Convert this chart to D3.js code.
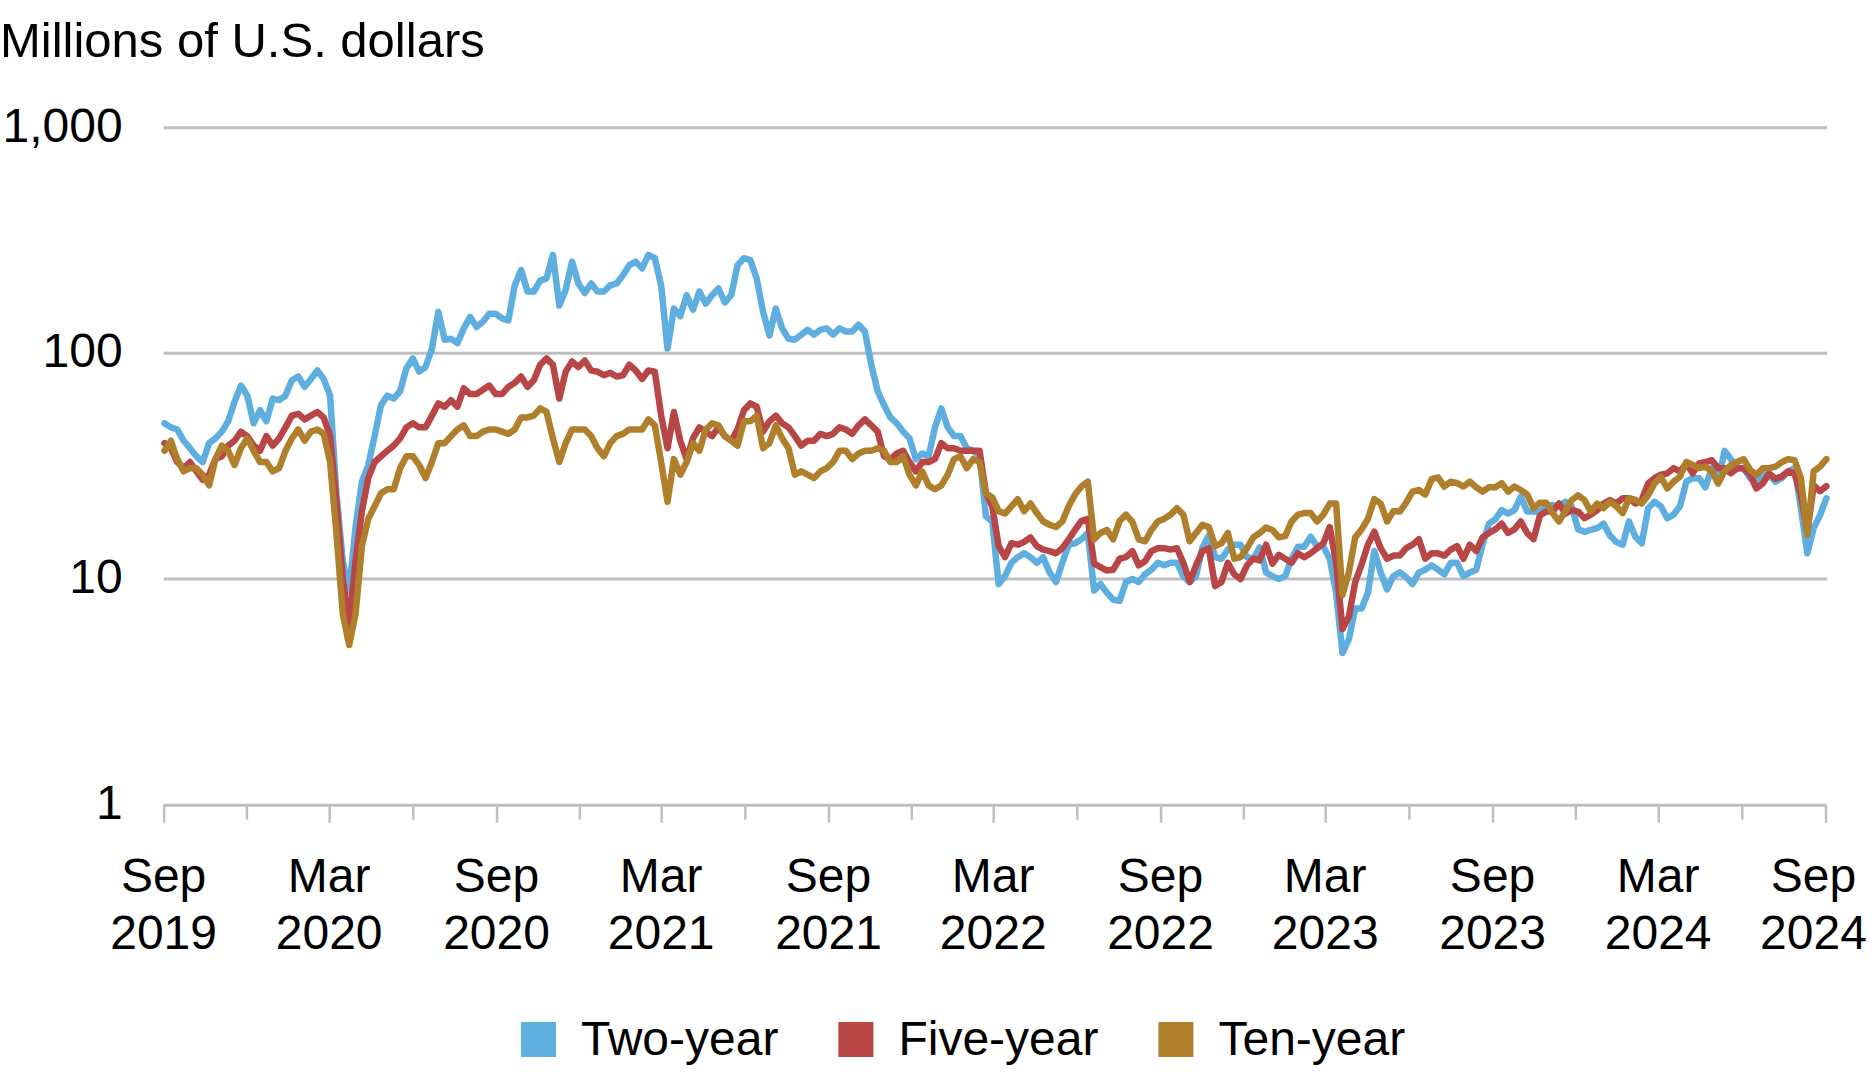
<!DOCTYPE html>
<html><head><meta charset="utf-8">
<script src="https://cdn.jsdelivr.net/npm/d3@7"></script>
<style>
html,body{margin:0;padding:0;background:#fff;}
svg{display:block;font-family:"Liberation Sans",Arial,Helvetica,sans-serif;}
</style>
</head><body>
<svg id="chart" width="1872" height="1074"></svg>
<script>
// ---- data (weekly observations, millions of U.S. dollars) ----
const startDate = "2019-09-02";
const stepDays = 7;

const twoYear = [
49,47,46,41,38,35,33,40,42,45,50,61,72,65,49,56,50,63,62,65,
76,79,71,77,84,77,65,24,12,8.8,17,27,32,43,59,65,63,68,86,95,
83,87,105,153,115,116,111,129,145,131,138,150,150,143,140,200,234,188,188,210,
215,273,163,191,255,204,185,204,188,188,200,204,222,246,255,238,273,264,200,105,
158,146,181,156,188,166,181,194,168,181,246,264,259,215,153,120,158,129,116,115,
121,127,121,127,129,121,129,125,125,134,125,89,68,59,52,49,45,42,34,36,
35,47,57,47,43,43,38,37,35,19,18,9.5,10.3,11.8,12.5,13,12.5,11.8,12.5,10.7,
9.7,11.8,14.2,14.4,15,16,8.9,9.5,8.7,8.1,8,9.7,10,9.7,10.5,11,11.8,11.5,11.8,11.8,
10.3,9.7,10.3,13.8,15.6,12.5,12.3,13.5,14.2,14.2,12.5,12.3,13.8,10.7,10.3,10,10.3,12.3,13.9,13.9,
15.4,14,13.9,12.3,8.7,4.7,5.4,7.4,7.4,8.7,13.3,10.7,9,10.3,10.7,10.2,9.5,10.7,11,11.5,
11,10.5,11.8,11.8,10.3,10.7,11,14.2,17.6,18.4,20.2,19.5,20.2,23.2,19.9,19.9,19.9,21,21.3,21,
22,21,16.6,16.2,16.5,16.8,17.6,15.6,14.6,14.2,18,15.4,14.4,20.6,22,21,18.6,19.3,21,27,
28,28,25.5,31,27,37,34,31,31,28,27,29,29,27,28,30,31,20.6,13,16.8,
19.2,22.8
];

const fiveYear = [
40,38,33,31,33,30,27.5,29,34,35,39,41,45,43,39,37,43,39,42,47,
53,54,51,53,55,52,43,22,10,6.2,12,20,28,33,35,37,39,42,47,49,
47,47,53,60,58,62,58,70,66,66,69,72,66,66,71,74,79,71,76,89,
95,89,63,83,92,87,93,84,83,80,82,79,80,89,84,77,84,83,53,38,
55,41,34,42,47,45,43,47,43,41,46,56,60,58,45,50,53,49,47,43,
39,41,41,44,43,44,47,46,44,48,51,48,45,35,34,36,37,33,30,33,
33,34,40,38,38,37,37,37,37,24,21,14,12.5,14.4,14.2,14.6,15.3,14,13.5,13.3,
13,13.7,15,16.5,18.1,18.5,11.7,11.3,10.9,11,12.3,12.5,13.3,11.5,12,13.3,13.7,13.7,13.5,13.7,
11.8,9.7,11.5,13.3,13.7,9.3,9.7,11.8,10.5,10,11.5,12.3,12.1,14.2,11.7,12.8,12.3,11.8,13,12.5,
13,13.7,14.4,17,11.8,6,6.8,9.7,11.6,14.2,16.2,13.7,12.3,12.7,12.7,13.7,14.2,15,12.3,13,
13,12.7,13.5,14,12.3,14.2,13.3,15.3,16,16.6,17.6,16,16.6,18,16,15,19.1,19.9,19.9,21.6,
19.5,20.2,19.9,18.6,19.3,20.2,21.6,22.4,21.6,22.8,22.8,21.6,22.4,26.5,28,29,29.4,31,30,32.5,
29.4,32.5,33,33.6,31,31,29.4,31,31,29,25.2,26.5,29.4,27.8,28.5,30,29.4,23.5,16.2,26,
24.5,25.8
];

const tenYear = [
37,41,34,30,31,31,29,26,34,39,37,32,38,42,37,33,33,30,31,37,
42,46,41,45,46,44,33,16,7,5.1,7,14,18.5,21,24,25,25,31,35,35,
32,28,33,40,40,43,46,48,43,43,45,46,46,45,44,46,52,52,53,57,
55,42,33,40,46,46,46,43,38,35,40,43,44,46,46,46,51,48,33,22,
34,29,33,40,37,46,49,48,43,41,39,50,50,53,38,40,48,42,38,29,
30,29,28,30,31,33,37,37,34,36,37,37,38,37,33,33,35,29,26,30,
26,25,26,29,34,35,31,34,33,24,23,20,19.5,21,22.6,20,21.6,19.6,18,17.4,
17,18,21,23.7,25.7,27,15,16,16.5,15,18.1,19.3,17.9,15,14.7,16.5,18,18.5,19.3,20.6,
19.3,14.7,16,17.4,17,14,14.4,16,12.3,12.5,13.7,15.3,16,16.9,16.5,15.3,15.5,18,19.3,19.6,
19.6,18,19.3,21.6,21.6,8.5,10.7,15.3,16.6,18.5,22.6,21.6,18,20,19.9,21.8,24.4,24.8,23.7,27.7,
28.2,25.7,27,26.6,25.7,27,25.5,24.4,25.5,25.5,26.6,24.4,25.7,24.8,23.7,20.6,21.8,21.8,19.6,18,
20,22.4,23.5,22.4,19.9,21.6,20.6,22,21,19.6,22.8,22.4,21.6,23.5,26.5,28.4,25.2,27,28.4,33,
32,31,31.5,30,26.5,30,32,33,34,30.5,29,31,31,31.5,33,34,33.6,28,15.7,30,
31.5,34
];

const seriesNames = ["Two-year", "Five-year", "Ten-year"];
const seriesColors = ["#5FAEE0", "#B84646", "#B07F2C"];
const yTickValues = [1, 10, 100, 1000];
const yTickLabels = ["1", "10", "100", "1,000"];
const xAxisStart = "2019-09-01";
const xAxisEnd = "2024-09-01";
const titleText = "Millions of U.S. dollars";

// ---- chart ----
const W = 1872, H = 1074;
const plot = {left: 163.6, right: 1825.5, top: 127.7, bottom: 804.7};
const parse = d3.utcParse("%Y-%m-%d");
const d0 = parse(startDate);

const x = d3.scaleUtc().domain([parse(xAxisStart), parse(xAxisEnd)]).range([plot.left, plot.right]);
const y = d3.scaleLog().domain([1, 1000]).range([plot.bottom, plot.top]);

const svg = d3.select("#chart");
svg.append("rect").attr("width", W).attr("height", H).attr("fill", "#fff");

// title
svg.append("text").attr("x", 0).attr("y", 57)
  .attr("font-size", 49).attr("fill", "#000").text(titleText);

// gridlines
svg.append("g").selectAll("line").data(yTickValues.filter(v => v > 1)).join("line")
  .attr("x1", plot.left).attr("x2", plot.right + 1.5)
  .attr("y1", d => y(d)).attr("y2", d => y(d))
  .attr("stroke", "#BFBFBF").attr("stroke-width", 3);

// y axis labels
const gy = svg.append("g").attr("transform", `translate(${plot.left},0)`)
  .call(d3.axisLeft(y).tickValues(yTickValues).tickSize(0).tickPadding(41)
    .tickFormat(d => yTickLabels[yTickValues.indexOf(d)]));
gy.select(".domain").remove();
gy.selectAll("text").attr("font-size", 48).attr("font-family", null)
  .attr("fill", "#000").attr("dy", "0.28em");

// x axis: a tick every 3 months, labels every 6 months
const xStart = parse(xAxisStart);
const nQuarters = d3.utcMonth.count(xStart, parse(xAxisEnd)) / 3;
const xTicks = d3.range(nQuarters + 1).map(k => d3.utcMonth.offset(xStart, 3 * k));
const gx = svg.append("g").attr("transform", `translate(0,${plot.bottom})`)
  .call(d3.axisBottom(x).tickValues(xTicks).tickSize(18).tickSizeOuter(0).tickFormat(""));
gx.select(".domain").attr("stroke", "#BFBFBF").attr("stroke-width", 3);
const isMajor = d => d.getUTCMonth() % 6 === 2;
gx.selectAll(".tick line").attr("stroke", "#BFBFBF").attr("stroke-width", 2.5)
  .attr("y2", d => isMajor(d) ? 18 : 15);
gx.selectAll(".tick text").remove();

const majors = xTicks.filter(isMajor);
const fmtM = d3.utcFormat("%b"), fmtY = d3.utcFormat("%Y");
const labels = svg.append("g").selectAll("text").data(majors).join("text")
  .attr("font-size", 48).attr("fill", "#000").attr("text-anchor", "middle")
  .attr("transform", (d, i) => {
    let cx = x(d);
    if (i === majors.length - 1) cx = Math.min(cx, W - 5 - 53.5);
    return `translate(${cx},0)`;
  });
labels.append("tspan").attr("x", 0).attr("y", 892).text(d => fmtM(d));
labels.append("tspan").attr("x", 0).attr("y", 949).text(d => fmtY(d));

// lines
const seriesData = [twoYear, fiveYear, tenYear].map(vals =>
  vals.map((v, i) => ({date: d3.utcDay.offset(d0, i * stepDays), value: v})));
const line = d3.line().x(d => x(d.date)).y(d => y(d.value));
svg.append("g").selectAll("path").data(seriesData).join("path")
  .attr("d", line).attr("fill", "none")
  .attr("stroke", (d, i) => seriesColors[i]).attr("stroke-width", 6.5)
  .attr("stroke-linejoin", "round").attr("stroke-linecap", "round");

// legend
const lg = svg.append("g");
let lx = 521;
seriesNames.forEach((name, i) => {
  lg.append("rect").attr("x", lx).attr("y", 1022).attr("width", 35).attr("height", 35)
    .attr("fill", seriesColors[i]);
  const t = lg.append("text").attr("x", lx + 60).attr("y", 1055)
    .attr("font-size", 48).attr("fill", "#000").text(name);
  lx += 60 + t.node().getComputedTextLength() + 60;
});
</script>
</body></html>
